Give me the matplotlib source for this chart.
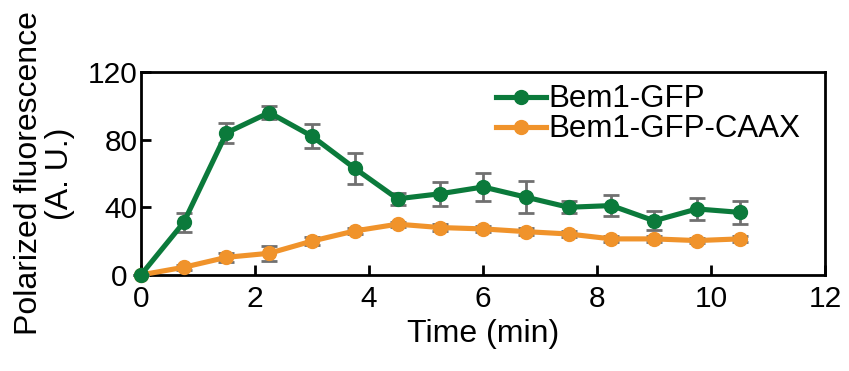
import matplotlib
matplotlib.use("Agg")
import matplotlib.pyplot as plt
from matplotlib.transforms import ScaledTranslation

time = [0, 0.75, 1.5, 2.25, 3, 3.75, 4.5, 5.25, 6, 6.75, 7.5, 8.25, 9, 9.75, 10.5]
bem1 = [0, 31, 84, 96, 82, 63, 45, 48, 52, 46, 40, 41, 32, 39, 37]
bem1_err = [0, 5.5, 6, 3.7, 7, 9, 3.6, 7, 8, 9.5, 3.6, 6, 5.7, 6.3, 6.6]
caax = [0, 4.5, 10.4, 12.8, 20, 26, 30, 28, 27.2, 25.6, 24.2, 21.3, 21.3, 20.3, 21.3]
caax_err = [0, 1.5, 2.5, 4.3, 2.5, 2, 1.5, 2, 1.8, 2, 2, 1.8, 2, 1.5, 1.8]
xticks = [0, 2, 4, 6, 8, 10, 12]
yticks = [0, 40, 80, 120]

plt.rcParams['font.family'] = ['Liberation Sans', 'DejaVu Sans']
fig = plt.figure(figsize=(8.49, 3.71), dpi=100)
ax = fig.add_axes([0.166, 0.259, 0.806, 0.547])

green = '#0b7a3b'
orange = '#f0932b'
ecol = '#707070'

ax.errorbar(time, caax, yerr=caax_err, fmt='none', ecolor=ecol, elinewidth=2, capsize=5.5, capthick=2, zorder=2, clip_on=False)
ax.plot(time, caax, color=orange, lw=3.7, marker='o', ms=10, label='Bem1-GFP-CAAX', zorder=3, clip_on=False)
ax.errorbar(time, bem1, yerr=bem1_err, fmt='none', ecolor=ecol, elinewidth=2, capsize=5.5, capthick=2, zorder=4, clip_on=False)
ax.plot(time, bem1, color=green, lw=3.7, marker='o', ms=10, label='Bem1-GFP', zorder=5, clip_on=False)

ax.set_xlim(0, 12)
ax.set_ylim(0, 120)
ax.set_xticks(xticks)
ax.set_yticks(yticks)
ax.tick_params(direction='in', length=7, width=2, labelsize=21.5, top=False, right=False)
ax.tick_params(axis='x', pad=7.5)
ax.tick_params(axis='y', pad=2.5)
for s in ax.spines.values():
    s.set_linewidth(2)

# shift the y "0" label left, as in the reference
ylab0 = ax.get_yticklabels()[0]
ylab0.set_transform(ylab0.get_transform() + ScaledTranslation(-10 / 100, 0, fig.dpi_scale_trans))

ax.set_xlabel('Time (min)', fontsize=23, labelpad=4)
ax.set_ylabel('Polarized fluorescence\n(A. U.)', fontsize=23, labelpad=9, linespacing=1.05)

handles, labels = ax.get_legend_handles_labels()
leg = ax.legend(handles[::-1], labels[::-1], loc='upper left', bbox_to_anchor=(0.5, 1.0),
                frameon=False, fontsize=22.5, handlelength=1.62, handletextpad=0.08,
                labelspacing=0.0, borderaxespad=0.0)

fig.savefig('out.png', dpi=100)
